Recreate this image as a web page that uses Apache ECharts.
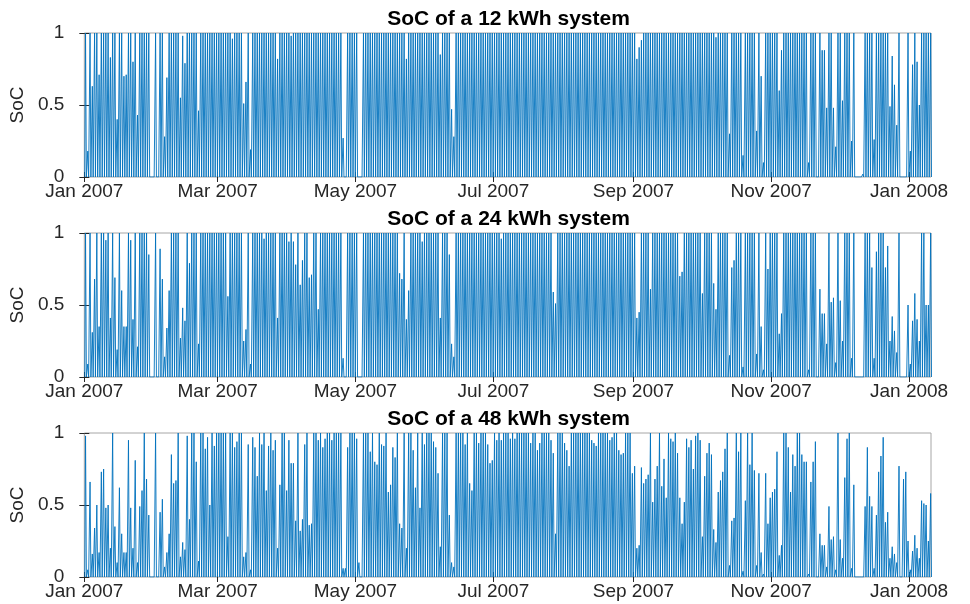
<!DOCTYPE html>
<html>
<head>
<meta charset="utf-8">
<script src="https://cdn.jsdelivr.net/npm/echarts@6/dist/echarts.min.js"></script>
<style>
  html, body { margin: 0; padding: 0; background: #fff; }
  #chart { width: 970px; height: 604px; }
</style>
</head>
<body>
<div id="chart"></div>
<script>
// Daily peak state of charge (fraction of capacity), one value per day from 1 Jan 2007.
const peak12 = [
  1,0.18,1,0.63,1,1,0.71,1,1,1,
  1,0.83,1,1,0.4,1,1,0.7,0.71,1,
  1,0.8,1,0.43,1,1,1,1,1,0,
  0,1,0,1,1,0.28,0.69,1,1,1,
  1,1,0.55,0.98,0.79,1,1,1,1,1,
  0.46,1,1,1,1,1,1,1,1,1,
  1,1,1,1,1,0.96,1,1,1,1,
  0.51,0.66,1,0.19,1,1,1,1,1,1,
  1,1,1,1,1,0.82,1,1,1,1,
  1,0.98,
  1,1,1,1,1,1,1,1,1,1,
  1,1,1,1,1,1,1,1,1,1,
  1,1,0.27,0,1,1,1,1,1,0,
  0,1,1,1,1,1,1,1,1,1,
  1,1,1,1,1,1,1,1,1,1,
  0.82,1,1,1,1,1,1,1,1,1,
  1,1,1,1,1,0.85,1,1,1,1,
  0.47,0.28,1,1,1,1,1,1,1,1,
  1,1,1,1,1,1,1,1,1,1,
  1,1,1,1,
  1,1,1,1,1,1,1,1,1,1,
  1,1,1,1,1,1,1,1,1,1,
  1,1,1,1,1,1,1,1,1,1,
  1,1,1,1,1,1,1,1,1,1,
  1,1,1,1,1,1,1,1,1,1,
  1,1,1,1,1,1,1,1,0.82,0.9,
  0.95,1,1,1,1,1,1,1,1,1,
  1,1,1,1,1,1,1,1,1,1,
  1,1,1,1,1,1,1,1,1,1,
  1,1,1,0.97,
  1,1,1,1,1,0.3,1,1,1,1,
  1,0.15,1,1,1,1,1,0.32,1,0.7,
  0.1,1,1,1,1,1,1,0.6,0.88,1,
  1,1,1,1,1,1,1,1,1,1,
  0.1,1,1,1,0,1,0.88,0.88,0.48,1,
  1,0.48,0.21,1,1,0.53,1,1,1,0.25,
  1,0,0,0,0.02,1,1,1,1,0.26,
  1,1,1,1,1,1,0.49,0.84,0.64,0.36,
  1,0,0,0,1,0.18,0.78,1,0.8,0.5,
  1,1,1,1,1
];

const peak24 = [
  1,0.09,1,0.31,0.68,1,0.35,1,1,0.95,
  1,0.41,1,0.69,0.19,1,0.6,0.35,0.35,1,
  0.95,0.4,1,0.21,1,1,1,1,0.85,0,
  0,1,0,0.89,0.68,0.14,0.34,0.6,1,1,
  1,1,0.27,0.48,0.39,1,0.79,1,1,1,
  0.23,1,1,1,1,1,1,1,1,1,
  1,1,1,0.56,1,1,1,1,1,1,
  0.25,0.33,1,0.09,1,1,1,1,1,0.96,
  1,1,1,1,1,0.41,1,1,1,1,
  0.94,1,
  0.94,0.78,1,0.64,0.81,1,1,0.69,0.71,1,
  1,0.47,1,1,1,1,1,1,1,1,
  1,1,0.13,0,1,1,1,1,1,0,
  0,1,1,1,1,1,1,1,1,1,
  1,1,1,1,1,1,1,0.72,0.68,1,
  0.4,0.6,1,1,1,1,1,0.94,1,1,
  1,1,1,1,1,0.41,1,1,1,0.85,
  0.23,0.14,1,1,1,1,1,1,1,1,
  1,1,1,1,1,1,1,1,1,1,
  1,1,0.96,1,
  1,1,1,1,1,1,1,1,1,1,
  1,1,1,1,1,1,1,1,1,1,
  1,0.59,0.51,1,1,1,1,1,1,1,
  1,1,1,1,1,1,1,1,1,1,
  1,1,1,1,1,1,1,1,1,1,
  1,1,1,1,1,1,1,1,0.41,0.45,
  1,1,1,1,0.61,1,1,1,1,1,
  1,1,1,1,1,1,1,0.7,0.73,1,
  1,1,1,1,1,1,1,0.58,1,1,
  1,1,0.65,0.47,
  1,1,1,1,1,0.15,0.76,0.81,1,1,
  1,0.07,1,1,1,1,1,0.16,1,0.35,
  0.05,1,0.75,1,1,1,1,0.3,0.44,1,
  1,1,1,1,1,1,1,1,1,1,
  0.05,1,1,1,0,0.61,0.44,0.44,0.23,1,
  0.52,0.55,0.1,1,0.53,0.25,1,1,1,0.13,
  1,0,0,0,0,1,1,1,0.76,0.13,
  0.87,1,1,1,0.76,0.91,0.25,0.42,0.32,0.17,
  1,0,0,0,0.5,0.09,0.39,0.58,0.4,0.25,
  1,1,0.5,0.5,1
];

const peak48 = [
  0.98,0.05,0.66,0.16,0.34,0.5,0.17,0.73,0.75,0.48,
  0.5,0.2,1,0.35,0.1,0.62,0.3,0.17,0.17,0.95,
  0.48,0.2,0.81,0.1,0.49,0.6,1,0.68,0.43,0,
  0,1,0,0.45,0.54,0.07,0.17,0.3,0.85,0.65,
  0.67,1,0.14,0.24,0.19,0.98,0.4,1,1,0.8,
  0.11,1,1,0.89,0.97,0.5,1,0.91,1,1,
  1,1,1,0.28,1,1,0.9,0.94,1,1,
  0.14,0.17,0.92,0.05,0.97,0.9,0.7,1,0.92,1,
  0.6,0.91,1,0.88,0.95,0.2,0.64,1,1,0.6,
  0.95,0.79,
  0.79,0.39,1,0.32,0.4,0.92,1,0.36,0.37,1,
  1,0.95,1,0.9,0.96,1,1,0.95,1,1,
  1,1,0.06,0.06,0.9,1,1,1,0.96,0.1,
  0,1,1,1,0.87,1,0.8,0.78,1,0.92,
  0.91,1,0.59,0.64,0.9,0.83,1,0.37,0.34,1,
  0.2,1,1,0.88,0.62,1,0.48,1,0.92,1,
  1,1,0.94,0.9,0.72,0.21,1,1,1,0.43,
  0.1,0.07,1,1,1,1,0.92,1,0.65,0.6,
  1,1,0.93,1,1,1,0.92,0.79,0.81,1,
  0.95,1,0.95,1,
  1,1,0.96,1,0.96,1,1,1,1,1,
  1,0.93,1,1,0.88,0.93,1,1,1,1,
  0.95,0.86,0.3,1,1,1,0.93,0.88,0.77,1,
  1,1,1,1,1,1,1,1,0.95,0.93,
  0.91,1,1,1,1,1,0.95,0.97,1,1,
  0.88,0.85,0.86,1,1,1,0.72,0.77,0.2,0.22,
  0.76,0.65,0.68,0.71,1,0.52,0.68,0.77,1,0.63,
  0.82,0.55,1,0.96,0.94,1,0.86,0.55,0.37,0.52,
  0.96,0.9,0.95,0.75,0.98,1,0.95,0.28,0.7,0.86,
  0.93,0.85,0.33,0.24,
  0.59,0.67,0.73,0.89,1,0.08,0.39,0.41,1,0.87,
  1,0.04,0.53,1,0.78,1,0.74,0.08,0.72,0.17,
  0.02,0.72,0.37,0.55,0.59,0.61,0.87,0.15,0.22,1,
  1,0.9,0.59,0.85,0.77,1,1,0.85,0.8,0.8,
  0.02,0.66,0.8,0.94,0,0.3,0.22,0.22,0.07,0.49,
  0.26,0.28,0.05,1,0.26,0.13,0.69,0.96,1,0.06,
  0.64,0,0,0,0,0.49,0.9,0.56,0.49,0.06,
  0.43,0.73,0.84,0.97,0.38,0.45,0.13,0.21,0.16,0.1,
  0.77,0,0.68,0.73,0.25,0.05,0.18,0.29,0.2,0.13,
  0.53,0.51,0.5,0.25,0.58
];

// Battery sizes shown in the three panels
const capacities = [12, 24, 48];
const panelPeaks = [peak12, peak24, peak48];

// Axis ticks
const tickMonths = [[2007, 0], [2007, 2], [2007, 4], [2007, 6], [2007, 8], [2007, 10], [2008, 0]];
const tickLabels = ['Jan 2007', 'Mar 2007', 'May 2007', 'Jul 2007', 'Sep 2007', 'Nov 2007', 'Jan 2008'];
const yTicks = [0, 0.5, 1];
const yTickLabels = ['0', '0.5', '1'];

// Battery is empty from late evening until early morning, charges through the
// morning, peaks early afternoon and drains through the evening.
const EMPTY = 0;
const CHARGE_START_H = 5, PEAK_H = 13, EMPTY_AGAIN_H = 22;

// x is measured in days since 1 Jan 2007 00:00
const DAY_MS = 86400000;
const T0 = Date.UTC(2007, 0, 1);
const xMin = 0;
const xMax = 374.7;
const tickValues = tickMonths.map(([y, m]) => (Date.UTC(y, m, 1) - T0) / DAY_MS);

function dailyProfile(peaks) {
  const pts = [];
  peaks.forEach((p, d) => {
    pts.push([d + CHARGE_START_H / 24, EMPTY]);
    pts.push([d + PEAK_H / 24, p]);
    pts.push([d + EMPTY_AGAIN_H / 24, EMPTY]);
  });
  return pts;
}

const FONT = "'Liberation Sans', Arial, Helvetica, sans-serif";
const TEXT = '#262626';
const BOX = '#a6a6a6';
const LINE = '#0072BD';

const gridTops = [33, 233, 433];
const GRID_H = 144, GRID_L = 82, GRID_R = 39;
const plotCenter = GRID_L + (970 - GRID_L - GRID_R) / 2;

const grids = [], xAxes = [], yAxes = [], series = [], titles = [];

function xLabel(v) {
  const k = tickValues.findIndex((t) => Math.abs(t - v) < 1e-6);
  return k >= 0 ? tickLabels[k] : '';
}
function yLabel(v) {
  const k = yTicks.findIndex((t) => Math.abs(t - v) < 1e-6);
  return k >= 0 ? yTickLabels[k] : '';
}

capacities.forEach((cap, i) => {
  grids.push({
    left: GRID_L, right: GRID_R, top: gridTops[i], height: GRID_H,
    show: true, borderColor: BOX, borderWidth: 1, backgroundColor: '#fff'
  });
  titles.push({
    text: 'SoC of a ' + cap + ' kWh system',
    left: plotCenter - 3, top: gridTops[i] - 29, textAlign: 'center',
    textStyle: { fontFamily: FONT, fontSize: 21, fontWeight: 'bold', color: '#000' }
  });
  // bottom axis with labels
  xAxes.push({
    type: 'value', gridIndex: i, min: xMin, max: xMax,
    axisLine: { show: false },
    axisTick: { show: true, inside: true, length: 5, customValues: tickValues, lineStyle: { color: TEXT } },
    axisLabel: {
      customValues: tickValues, margin: 5, color: TEXT, fontFamily: FONT, fontSize: 19,
      formatter: xLabel
    },
    splitLine: { show: false }
  });
  // top axis: tick marks only
  xAxes.push({
    type: 'value', gridIndex: i, position: 'top', min: xMin, max: xMax,
    axisLine: { show: false },
    axisTick: { show: true, inside: true, length: 5, customValues: tickValues, lineStyle: { color: TEXT } },
    axisLabel: { show: false },
    splitLine: { show: false }
  });
  yAxes.push({
    type: 'value', gridIndex: i, min: 0, max: 1, interval: 0.5,
    name: 'SoC', nameLocation: 'middle', nameGap: 49, nameRotate: 90,
    nameTextStyle: { fontFamily: FONT, fontSize: 19, color: TEXT },
    axisLine: { show: false },
    axisTick: { show: true, inside: true, length: 5, lineStyle: { color: TEXT } },
    axisLabel: { margin: 20, color: TEXT, fontFamily: FONT, fontSize: 19, formatter: yLabel },
    splitLine: { show: false }
  });
  yAxes.push({
    type: 'value', gridIndex: i, position: 'right', min: 0, max: 1, interval: 0.5,
    axisLine: { show: false },
    axisTick: { show: true, inside: true, length: 5, lineStyle: { color: TEXT } },
    axisLabel: { show: false },
    splitLine: { show: false }
  });
  series.push({
    type: 'line', xAxisIndex: 2 * i, yAxisIndex: 2 * i,
    data: dailyProfile(panelPeaks[i]),
    showSymbol: false, symbol: 'none',
    lineStyle: { color: LINE, width: 0.9 },
    animation: false, silent: true, z: 1
  });
});

const chart = echarts.init(document.getElementById('chart'), null, { renderer: 'canvas' });
chart.setOption({
  animation: false,
  backgroundColor: '#fff',
  title: titles,
  grid: grids,
  xAxis: xAxes,
  yAxis: yAxes,
  series: series
});
</script>
</body>
</html>
